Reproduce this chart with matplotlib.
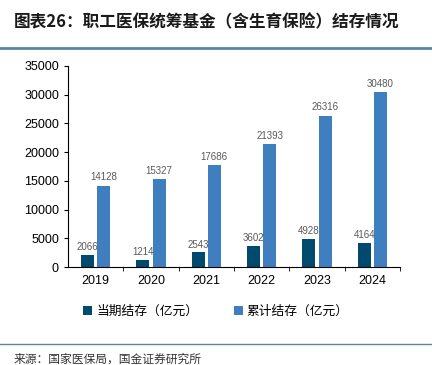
import matplotlib
matplotlib.use("Agg")
import matplotlib.pyplot as plt
import numpy as np

plt.rcParams['font.family'] = ['Noto Sans CJK SC', 'DejaVu Sans']

#%% Data
years = ['2019', '2020', '2021', '2022', '2023', '2024']
current = [2066, 1214, 2543, 3602, 4928, 4164]
accum = [14128, 15327, 17686, 21393, 26316, 30480]

dark = '#004a70'
light = '#3f7fbf'
lab_col = '#595959'

#%% Figure
fig = plt.figure(figsize=(4.32, 3.65), dpi=100)
ax = fig.add_axes([68/432, 1 - 267/365, (400 - 68)/432, (267 - 66)/365])

x = np.arange(len(years))
w = 0.235
b1 = ax.bar(x - 0.145, current, w, color=dark, label='当期结存（亿元）')
b2 = ax.bar(x + 0.145, accum, w, color=light, label='累计结存（亿元）')

for xi, v in zip(x, current):
    ax.text(xi - 0.145, v + 500, str(v), ha='center', va='bottom',
            fontsize=7, color=lab_col, family='Liberation Sans')
for xi, v in zip(x, accum):
    ax.text(xi + 0.145, v + 600, str(v), ha='center', va='bottom',
            fontsize=7, color=lab_col, family='Liberation Sans')

ax.set_xlim(-0.5, 5.5)
ax.set_ylim(0, 35000)
ax.set_yticks(np.arange(0, 35001, 5000))
ax.set_xticks(x)
ax.set_xticklabels(years)
ax.set_xticks(np.arange(0.5, 5.6, 1), minor=True)
ax.tick_params(axis='x', which='major', length=0, pad=6, labelsize=9)
ax.tick_params(axis='x', which='minor', length=3, direction='out')
ax.tick_params(axis='y', length=3, direction='out', labelsize=9)
for lab in ax.get_xticklabels() + ax.get_yticklabels():
    lab.set_family('Liberation Sans')

ax.spines['top'].set_visible(False)
ax.spines['right'].set_visible(False)

fig.legend(handles=[b1, b2], loc='center', bbox_to_anchor=(0.5, 1 - 311/365),
           ncol=2, frameon=False, fontsize=9.2, handlelength=0.7, handleheight=0.7,
           handletextpad=0.3, columnspacing=2.8)

#%% Title, rules, source
fig.text(14/432, 1 - 22/365, '图表26：职工医保统筹基金（含生育保险）结存情况',
         fontsize=12, fontweight='bold', color='#1a1a1a', va='center', ha='left')
fig.add_artist(plt.Line2D([0, 1], [1 - 48/365, 1 - 48/365], color='#5a86a0', lw=2))
fig.add_artist(plt.Line2D([0, 1], [1 - 344/365, 1 - 344/365], color='#5a86a0', lw=1))
fig.text(14/432, 1 - 359/365, '来源：国家医保局，国金证券研究所',
         fontsize=8.5, color='#333333', va='center', ha='left')

fig.savefig('out.png', dpi=100)
